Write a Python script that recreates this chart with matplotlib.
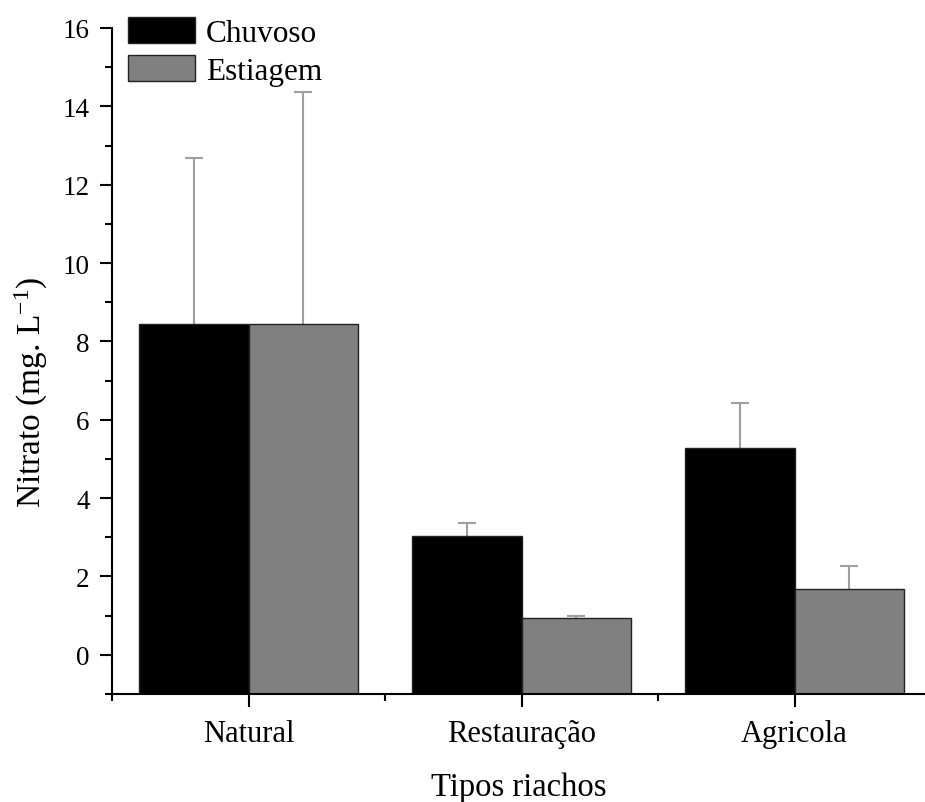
import numpy as np
import matplotlib
matplotlib.use("Agg")
import matplotlib.pyplot as plt
from matplotlib.ticker import MultipleLocator, FixedLocator

plt.rcParams['font.family'] = ['Liberation Serif', 'DejaVu Serif']
plt.rcParams['mathtext.fontset'] = 'custom'
plt.rcParams['mathtext.rm'] = 'Liberation Serif'
plt.rcParams['mathtext.it'] = 'Liberation Serif:italic'

# dados
categorias = ['Natural', 'Restauração', 'Agricola']
chuvoso = np.array([8.45, 3.04, 5.27])
chuvoso_err = np.array([4.24, 0.33, 1.16])
estiagem = np.array([8.45, 0.93, 1.69])
estiagem_err = np.array([5.92, 0.07, 0.58])
base = -1

x = np.arange(1, len(categorias) + 1)
w = 0.4

fig = plt.figure(figsize=(9.25, 8.03), dpi=100)
ax = fig.add_axes([112/925, (803-695)/803, (925-112)/925, (695-29)/803])

ax.bar(x - w/2, chuvoso - base, w, bottom=base, color='black',
       edgecolor='#222222', linewidth=1, label='Chuvoso', zorder=2)
ax.bar(x + w/2, estiagem - base, w, bottom=base, color='#808080',
       edgecolor='#222222', linewidth=1, label='Estiagem', zorder=2)

# barras de erro (só para cima, sem cap na base)
for xs, ys, es in [(x - w/2, chuvoso, chuvoso_err), (x + w/2, estiagem, estiagem_err)]:
    ax.vlines(xs, ys, ys + es, color='#a0a0a0', linewidth=1.5, zorder=1)
    ax.plot(xs, ys + es, linestyle='none', marker='_', markersize=13,
            markeredgewidth=1.5, color='#a0a0a0', zorder=1)

ax.set_xlim(0.5, 3.478)
ax.set_ylim(-1, 16)
ax.set_xticks(x)
ax.set_xticklabels(categorias)
ax.xaxis.set_minor_locator(FixedLocator([0.5, 1.5, 2.5, 3.5]))
ax.set_yticks(np.arange(0, 17, 2))
ax.yaxis.set_minor_locator(MultipleLocator(1))

for s in ['top', 'right']:
    ax.spines[s].set_visible(False)
for s in ['left', 'bottom']:
    ax.spines[s].set_linewidth(1.5)

ax.tick_params(which='major', direction='out', length=9, width=1.5, pad=7)
ax.tick_params(which='minor', direction='out', length=5, width=1.5)
ax.tick_params(axis='x', labelsize=22, pad=9)
ax.tick_params(axis='y', labelsize=19.5)

ax.set_xlabel('Tipos riachos', fontsize=23.5, labelpad=17)
ax.set_ylabel('Nitrato (mg. L$^{-1}$)', fontsize=24)
ax.yaxis.set_label_coords(-0.076, 0.455)

fig.legend(loc='upper left', bbox_to_anchor=(106/925, 1 + 4/803), frameon=False,
           fontsize=22.5, handlelength=2.15, handleheight=0.9, labelspacing=0.25,
           handletextpad=0.35, borderpad=0.2)

fig.savefig('out.png', dpi=100)
